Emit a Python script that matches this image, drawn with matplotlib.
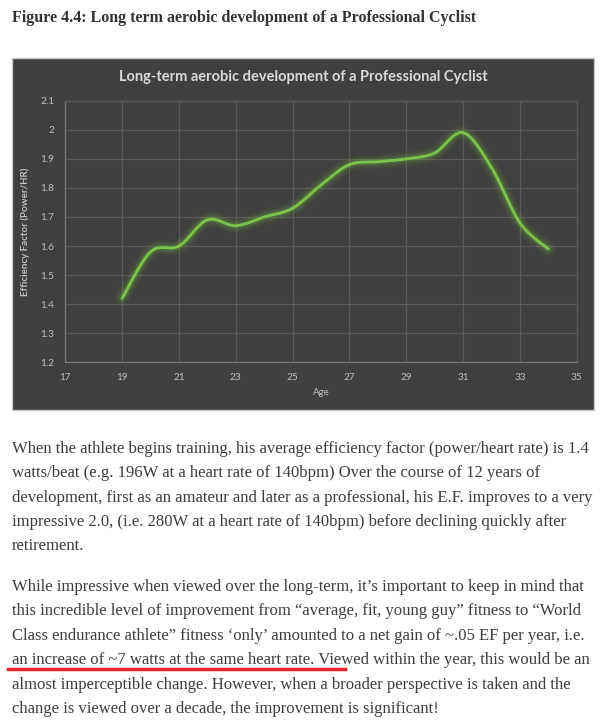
import numpy as np
import matplotlib.pyplot as plt
from matplotlib.patches import Rectangle
from matplotlib.lines import Line2D

W, H = 613, 722

# data
ages = [19, 20, 21, 22, 23, 24, 25, 26, 27, 28, 29, 30, 31, 32, 33, 34]
ef = [1.42, 1.58, 1.60, 1.69, 1.67, 1.70, 1.73, 1.81, 1.88, 1.89, 1.90, 1.92, 1.99, 1.87, 1.68, 1.59]

x_ticks = list(range(17, 36, 2))
y_ticks = [1.2, 1.3, 1.4, 1.5, 1.6, 1.7, 1.8, 1.9, 2.0, 2.1]
y_tick_labels = ['1.2', '1.3', '1.4', '1.5', '1.6', '1.7', '1.8', '1.9', '2', '2.1']

page_title = 'Figure 4.4: Long term aerobic development of a Professional Cyclist'
chart_title = 'Long-term aerobic development of a Professional Cyclist'
x_label = 'Age'
y_label = 'Efficiency Factor (Power/HR)'

para1 = [
    'When the athlete begins training, his average efficiency factor (power/heart rate) is 1.4',
    'watts/beat (e.g. 196W at a heart rate of 140bpm) Over the course of 12 years of',
    'development, first as an amateur and later as a professional, his E.F. improves to a very',
    'impressive 2.0, (i.e. 280W at a heart rate of 140bpm) before declining quickly after',
    'retirement.',
]
para2 = [
    'While impressive when viewed over the long-term, it\u2019s important to keep in mind that',
    'this incredible level of improvement from \u201caverage, fit, young guy\u201d fitness to \u201cWorld',
    'Class endurance athlete\u201d fitness \u2018only\u2019 amounted to a net gain of ~.05 EF per year, i.e.',
    'an increase of ~7 watts at the same heart rate. Viewed within the year, this would be an',
    'almost imperceptible change. However, when a broader perspective is taken and the',
    'change is viewed over a decade, the improvement is significant!',
]


def fx(x):
    return x / W


def fy(y):
    return 1 - y / H


def smooth(xs, ys, n=30):
    # excel-style smoothed line (catmull-rom through the points)
    p = np.column_stack([xs, ys]).astype(float)
    p = np.vstack([p[0], p, p[-1]])
    out = []
    t = np.linspace(0, 1, n)[:, None]
    for i in range(1, len(p) - 2):
        p0, p1, p2, p3 = p[i - 1], p[i], p[i + 1], p[i + 2]
        seg = 0.5 * ((2 * p1) + (-p0 + p2) * t + (2 * p0 - 5 * p1 + 4 * p2 - p3) * t ** 2
                     + (-p0 + 3 * p1 - 3 * p2 + p3) * t ** 3)
        out.append(seg)
    out = np.vstack(out)
    return out[:, 0], out[:, 1]


fig = plt.figure(figsize=(W / 100, H / 100), dpi=100)
fig.patch.set_facecolor('white')

# page heading
fig.text(fx(12), fy(18), page_title, family='Liberation Serif', fontsize=11.5,
         fontweight='bold', color='#333333', va='center', ha='left')

# dark chart panel (behind the axes)
fig.patches.append(Rectangle((fx(12), fy(410)), fx(594) - fx(12), fy(58) - fy(410),
                             transform=fig.transFigure, facecolor='#404040',
                             edgecolor='#c8c8c8', linewidth=1, zorder=-1))

ax = fig.add_axes([fx(65.3), fy(362.3), fx(576.7) - fx(65.3), fy(100.7) - fy(362.3)])
ax.set_facecolor('#404040')

sx, sy = smooth(ages, ef)
for lw, a in [(11, 0.05), (8.5, 0.07), (6, 0.11), (4, 0.18)]:
    ax.plot(sx, sy, color='#6fb83a', lw=lw, alpha=a, solid_capstyle='round')
ax.plot(sx, sy, color='#7dc24b', lw=2, solid_capstyle='round')

ax.set_xlim(17, 35)
ax.set_ylim(1.2, 2.1)
ax.set_xticks(x_ticks)
ax.set_yticks(y_ticks)
ax.set_yticklabels(y_tick_labels)
ax.grid(True, color='#5a5a5a', lw=0.9)
ax.set_axisbelow(True)
for s in ax.spines.values():
    s.set_color('#5a5a5a')
    s.set_linewidth(0.9)
ax.spines['left'].set_color('#7a7a7a')
ax.spines['bottom'].set_color('#7a7a7a')
ax.tick_params(length=0, colors='#bfbfbf', labelsize=7.2, pad=8)
for lab in ax.get_xticklabels() + ax.get_yticklabels():
    lab.set_family('Lato')

ax.set_xlabel(x_label, family='Lato', fontsize=7, color='#bfbfbf', labelpad=4)
ax.set_ylabel(y_label, family='Lato', fontsize=7, color='#bfbfbf', fontweight='bold', labelpad=7)

fig.text(fx(303), fy(77), chart_title, family='Lato', fontsize=10.5, fontweight='bold',
         color='#d9d9d9', ha='center', va='center')

# body text
for i, line in enumerate(para1):
    fig.text(fx(12), fy(449 + i * 24.3), line, family='Liberation Serif', fontsize=12,
             color='#3d3d3d', va='center', ha='left')
for i, line in enumerate(para2):
    fig.text(fx(12), fy(587 + i * 24.4), line, family='Liberation Serif', fontsize=12,
             color='#3d3d3d', va='center', ha='left')

# red underline
fig.lines.append(Line2D([fx(8), fx(345)], [fy(669), fy(669)], transform=fig.transFigure,
                        color='#e3222b', lw=2.5))

fig.savefig('out.png', dpi=100, facecolor='white')
